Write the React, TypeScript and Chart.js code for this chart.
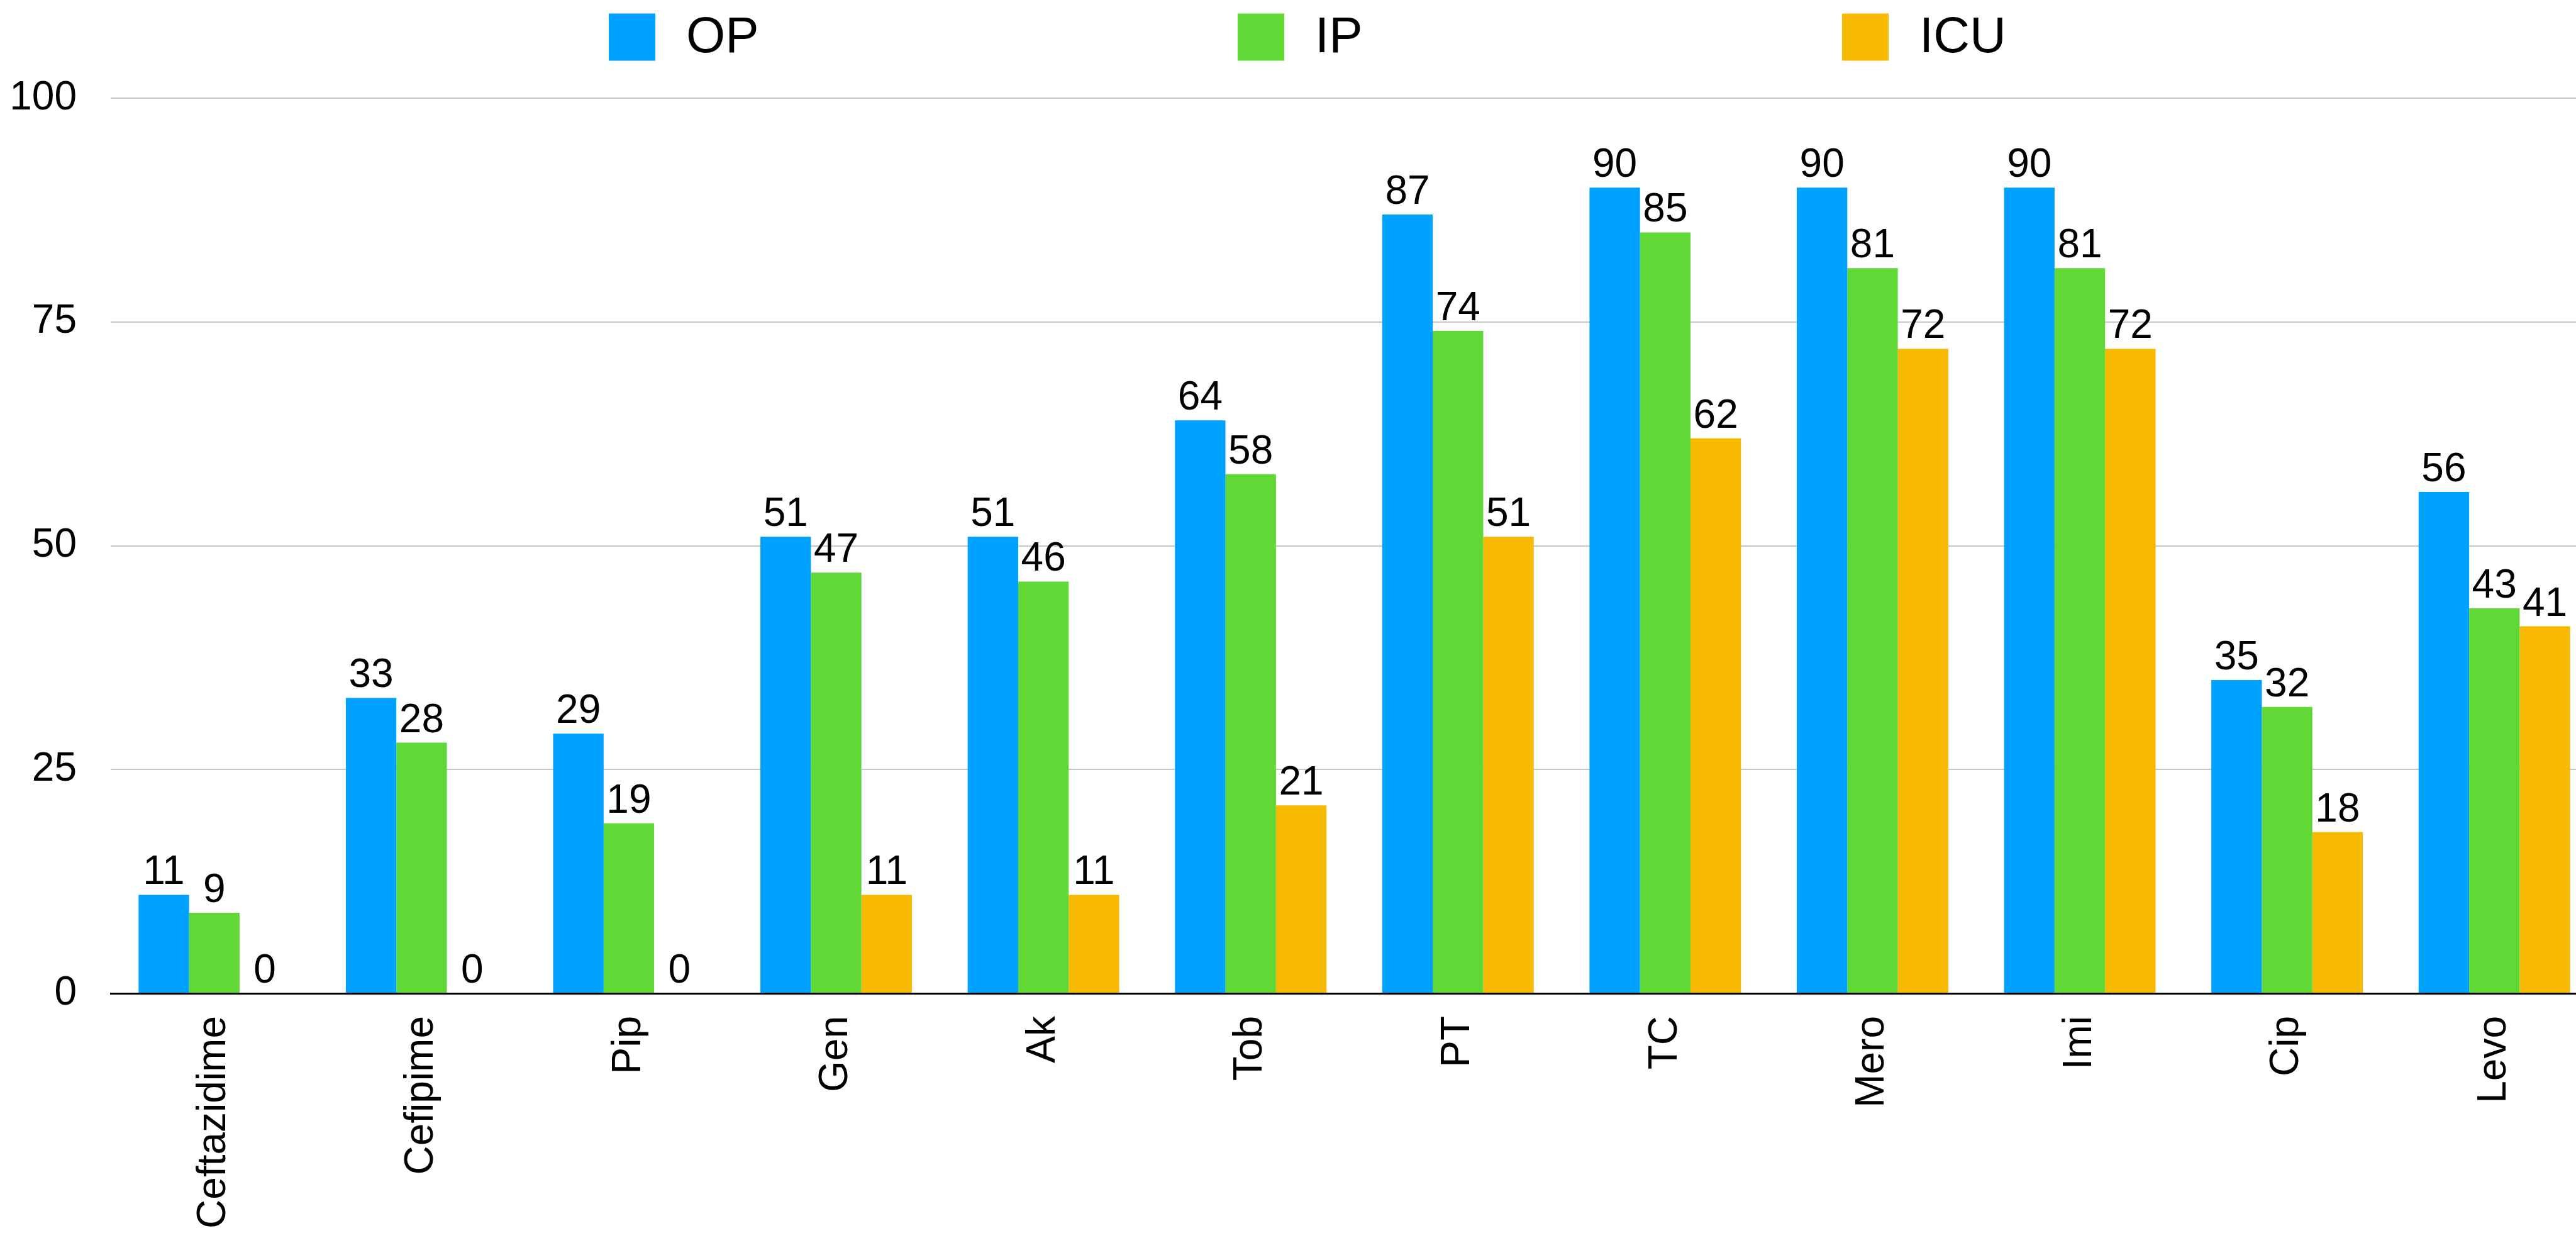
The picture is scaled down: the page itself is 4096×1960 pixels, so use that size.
import React, { useEffect, useRef } from "react";
import { Chart, registerables } from "chart.js";

Chart.register(...registerables);

const categories = ["Ceftazidime", "Cefipime", "Pip", "Gen", "Ak", "Tob", "PT", "TC", "Mero", "Imi", "Cip", "Levo"];
const opValues = [11, 33, 29, 51, 51, 64, 87, 90, 90, 90, 35, 56];
const ipValues = [9, 28, 19, 47, 46, 58, 74, 85, 81, 81, 32, 43];
const icuValues = [0, 0, 0, 11, 11, 21, 51, 62, 72, 72, 18, 41];
const seriesNames = ["OP", "IP", "ICU"];
const seriesColors = ["#00A2FF", "#61D836", "#F8BA00"];
const yTicks = [0, 25, 50, 75, 100];

const FONT = "'Liberation Sans', Arial, Helvetica, sans-serif";

const legendPlugin = {
  id: "customLegend",
  afterDraw(chart: any) {
    const ctx = chart.ctx;
    const starts = [968, 1968, 2929];
    const size = 75;
    const cy = 59;
    ctx.save();
    chart.data.datasets.forEach((ds: any, i: number) => {
      ctx.fillStyle = ds.backgroundColor;
      ctx.fillRect(starts[i], cy - size / 2, size - 1, size);
      ctx.fillStyle = "#000";
      ctx.font = `80px ${FONT}`;
      ctx.textAlign = "left";
      ctx.textBaseline = "middle";
      ctx.fillText(ds.label, starts[i] + size + 48, cy + 2);
    });
    ctx.restore();
  },
};

const valueLabelPlugin = {
  id: "valueLabels",
  afterDatasetsDraw(chart: any) {
    const ctx = chart.ctx;
    ctx.save();
    ctx.fillStyle = "#000";
    ctx.font = `64px ${FONT}`;
    ctx.textAlign = "center";
    ctx.textBaseline = "alphabetic";
    chart.data.datasets.forEach((ds: any, i: number) => {
      const meta = chart.getDatasetMeta(i);
      meta.data.forEach((el: any, j: number) => {
        ctx.fillText(String(ds.data[j]), el.x, el.y - 17);
      });
    });
    ctx.restore();
  },
};

export default function App() {
  const ref = useRef<HTMLCanvasElement>(null);

  useEffect(() => {
    if (!ref.current) return;
    const chart = new Chart(ref.current, {
      type: "bar",
      data: {
        labels: categories,
        datasets: [opValues, ipValues, icuValues].map((vals, i) => ({
          label: seriesNames[i],
          data: vals,
          backgroundColor: seriesColors[i],
          borderWidth: 0,
          categoryPercentage: 0.731,
          barPercentage: 1.0,
        })),
      },
      options: {
        responsive: false,
        animation: false,
        devicePixelRatio: 1,
        layout: { padding: { top: 156, left: 0, right: 0, bottom: 0 } },
        plugins: {
          legend: { display: false },
          tooltip: { enabled: false },
        },
        scales: {
          x: {
            grid: { display: false, drawTicks: false },
            border: { display: true, color: "#000", width: 3 },
            ticks: {
              color: "#000",
              font: { family: FONT, size: 64 },
              minRotation: 90,
              maxRotation: 90,
              padding: 36,
              autoSkip: false,
            },
            afterFit(scale: any) {
              scale.height = 381;
            },
          },
          y: {
            min: 0,
            max: 100,
            afterBuildTicks(scale: any) {
              scale.ticks = yTicks.map((v) => ({ value: v }));
            },
            grid: {
              drawTicks: false,
              lineWidth: 2,
              color: (c: any) => (c.tick && c.tick.value === 0 ? "rgba(0,0,0,0)" : "#c8c8c8"),
            },
            border: { display: false },
            ticks: {
              color: "#000",
              font: { family: FONT, size: 64 },
              padding: 54,
            },
            afterFit(scale: any) {
              scale.width = 176;
            },
          },
        },
      },
      plugins: [legendPlugin, valueLabelPlugin],
    });
    return () => chart.destroy();
  }, []);

  return (
    <div style={{ position: "absolute", left: 0, top: 0, width: 4096, height: 1960, overflow: "hidden", background: "#fff" }}>
      <canvas ref={ref} width={4131} height={1960} style={{ display: "block", width: 4131, height: 1960 }} />
    </div>
  );
}
